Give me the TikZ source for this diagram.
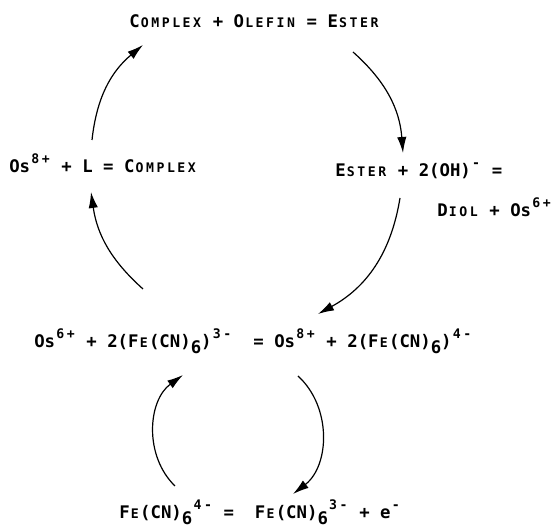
\documentclass[tikz,border=0pt]{standalone}
\usepackage{fontspec}
\setmainfont{DejaVu Sans Mono}
\newfontfamily\scfont[Scale=0.76]{DejaVu Sans Mono}
\usepackage{tikz}
\usetikzlibrary{arrows.meta}
\newlength\chw
\AtBeginDocument{\settowidth\chw{\bfseries\fontsize{13}{15}\selectfont 0}}
\makeatletter
\newcommand\smc[1]{\@tfor\smc@c:=#1\do{\makebox[\chw][c]{\scfont\bfseries\smc@c}}}
\makeatother
\newcommand\sps[1]{\raisebox{0.55em}{\smc{#1}}}
\newcommand\sbs[1]{\raisebox{-0.3em}{#1}}

\begin{document}
\begin{tikzpicture}[x=0.75pt,y=0.75pt,
    eqn/.style={font=\bfseries\fontsize{13}{15}\selectfont,inner sep=0pt,anchor=base west},
    cyc/.style={line width=0.9pt,-{Latex[length=12pt,width=7pt]}}]
        \useasboundingbox (0,0) rectangle (551,527);
        \node[eqn] (cplx) at (129,499) {C\smc{OMPLEX} + O\smc{LEFIN} = E\smc{STER}};
        \node[eqn] (form) at (9,354) {Os\sps{8+} + L = C\smc{OMPLEX}};
        \node[eqn] (hydr) at (335,350) {E\smc{STER} + 2(OH)\sps{-} =};
        \node[eqn] (diol) at (437,310) {D\smc{IOL} + Os\sps{6+}};
        \node[eqn] (oxid) at (34,179) {Os\sps{6+} + 2(F\smc{E}(CN)\sbs{6})\sps{3-}\ \ = Os\sps{8+} + 2(F\smc{E}(CN)\sbs{6})\sps{4-}};
        \node[eqn] (elec) at (119,8) {F\smc{E}(CN)\sbs{6}\sps{4-} =\ \ F\smc{E}(CN)\sbs{6}\sps{3-} + e\sps{-}};
        \coordinate (a1s) at (92,387);  \coordinate (a1e) at (143,482);
        \coordinate (a2s) at (353,475); \coordinate (a2e) at (403,374);
        \coordinate (a3s) at (400,329); \coordinate (a3e) at (318,213);
        \coordinate (a4s) at (143,238); \coordinate (a4e) at (91,335);
        \coordinate (b1s) at (175,41);  \coordinate (b1e) at (183,152);
        \coordinate (b2s) at (298,151); \coordinate (b2e) at (293,33);
        \draw[cyc] (a1s) to[bend left=22] (a1e);
        \draw[cyc] (a2s) to[bend left=22] (a2e);
        \draw[cyc] (a3s) to[bend left=26] (a3e);
        \draw[cyc] (a4s) to[bend left=20] (a4e);
        \draw[cyc] (b1s) to[bend left=50] (b1e);
        \draw[cyc] (b2s) to[bend left=50] (b2e);
      \end{tikzpicture}
\end{document}
